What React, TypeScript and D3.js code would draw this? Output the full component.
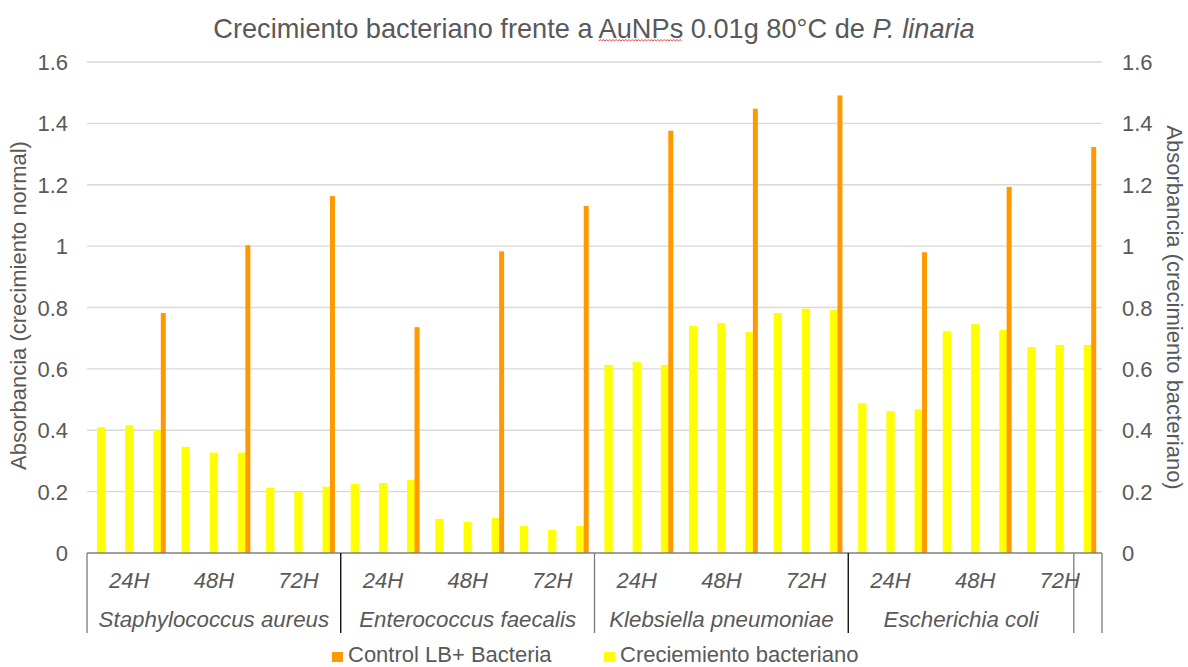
import React, { useEffect, useRef, useState } from "react";
import * as d3 from "d3";

const species = ["Staphylococcus aureus", "Enterococcus faecalis", "Klebsiella pneumoniae", "Escherichia coli", ""];
const speciesSpan = [9, 9, 9, 8, 1];
const timeLabels = ["24H", "48H", "72H"];
const growth = [
  0.41, 0.416, 0.4, 0.346, 0.327, 0.327, 0.213, 0.2, 0.216,
  0.225, 0.228, 0.238, 0.111, 0.101, 0.114, 0.088, 0.075, 0.088,
  0.613, 0.622, 0.613, 0.74, 0.749, 0.72, 0.782, 0.796, 0.792,
  0.488, 0.462, 0.468, 0.723, 0.746, 0.727, 0.671, 0.678, 0.678,
];
const control = [0.782, 1.003, 1.163, 0.736, 0.983, 1.131, 1.376, 1.448, 1.491, 0.98, 1.193, 1.323];
const yTicks = [0, 0.2, 0.4, 0.6, 0.8, 1, 1.2, 1.4, 1.6];
const seriesNames = ["Control LB+ Bacteria", "Creciemiento bacteriano"];

const W = 1188, H = 667;
const M = { left: 87, right: 1102, top: 62, bottom: 553 };
const FONT = "'Liberation Sans', Arial, sans-serif";
const TXT = "#595959";
const ORANGE = "#FF9900";
const YELLOW = "#FFFF00";

export default function App() {
  const titleRef = useRef<SVGTextElement>(null);
  const [wave, setWave] = useState<{ x0: number; x1: number } | null>(null);

  const x = d3.scaleBand<number>().domain(d3.range(growth.length)).range([M.left, M.right]).padding(0);
  const bw = x.bandwidth();
  const yL = d3.scaleLinear().domain([0, 1.6]).range([M.bottom, M.top]);
  const yR = d3.scaleLinear().domain([0, 1.6]).range([M.bottom, M.top]);

  useEffect(() => {
    const t = titleRef.current;
    if (!t) return;
    const full = t.textContent || "";
    const idx = full.indexOf("AuNPs");
    if (idx < 0) return;
    try {
      const x0 = t.getStartPositionOfChar(idx).x;
      const x1 = t.getEndPositionOfChar(idx + 4).x;
      setWave({ x0, x1 });
    } catch (e) {}
  }, []);

  let wavePath = "";
  if (wave) {
    const yb = 41;
    const step = 1.6;
    let up = true;
    wavePath = `M${wave.x0},${yb}`;
    for (let xx = wave.x0 + step; xx <= wave.x1; xx += step) {
      wavePath += ` L${xx.toFixed(1)},${up ? yb - 1.4 : yb}`;
      up = !up;
    }
  }

  const bounds: number[] = [0];
  speciesSpan.forEach((s, i) => bounds.push(bounds[i] + s));

  const legendItems = [
    { name: seriesNames[0], color: ORANGE, x: 332 },
    { name: seriesNames[1], color: YELLOW, x: 604 },
  ];

  return (
    <svg width={W} height={H} style={{ position: "absolute", left: 0, top: 0, background: "#fff" }} fontFamily={FONT}>
      <rect x={0} y={0} width={W} height={H} fill="#fff" />
      <text ref={titleRef} x={W / 2} y={38} textAnchor="middle" fontSize={27.2} fill={TXT}>
        Crecimiento bacteriano frente a AuNPs 0.01g 80°C de <tspan fontStyle="italic">P. linaria</tspan>
      </text>
      {wave && <path d={wavePath} fill="none" stroke="#e01010" strokeWidth={0.8} />}

      {yTicks.filter((v) => v > 0).map((v) => (
        <line key={v} x1={M.left} x2={M.right} y1={yL(v)} y2={yL(v)} stroke="#d9d9d9" strokeWidth={1.3} />
      ))}

      {growth.map((v, i) => (
        <rect key={"g" + i} x={x(i)! + bw / 2 - 4.15} y={yR(v)} width={8.3} height={M.bottom - yR(v)} fill={YELLOW} />
      ))}
      {control.map((v, j) => {
        const i = j * 3 + 2;
        return (
          <rect key={"c" + j} x={x(i)! + bw / 2 + 3.3} y={yL(v)} width={5} height={M.bottom - yL(v)} fill={ORANGE} />
        );
      })}

      <line x1={M.left} x2={M.right} y1={M.bottom} y2={M.bottom} stroke="#808080" strokeWidth={1.3} />
      {bounds.map((b, i) => {
        const xx = b === growth.length ? M.right : x(b)!;
        return (
          <line key={"sep" + i} x1={xx} x2={xx} y1={M.bottom} y2={633} stroke={i % 2 === 1 && i < 5 ? "#000" : "#7a7a7a"} strokeWidth={1.3} />
        );
      })}
      {d3.range(growth.length / 3).map((t) => (
        <text key={"t" + t} x={x(t * 3)! + bw * 1.5} y={588} textAnchor="middle" fontSize={22} fontStyle="italic" fill={TXT}>
          {timeLabels[t % 3]}
        </text>
      ))}
      {species.map((s, i) => (
        <text key={"s" + i} x={(x(bounds[i])! + (bounds[i + 1] === growth.length ? M.right : x(bounds[i + 1])!)) / 2} y={627} textAnchor="middle" fontSize={22.3} fontStyle="italic" fill={TXT}>
          {s}
        </text>
      ))}

      {yTicks.map((v) => (
        <text key={"l" + v} x={68} y={yL(v) + 8} textAnchor="end" fontSize={22} fill={TXT}>
          {String(v)}
        </text>
      ))}
      {yTicks.map((v) => (
        <text key={"r" + v} x={1122} y={yR(v) + 8} textAnchor="start" fontSize={22} fill={TXT}>
          {String(v)}
        </text>
      ))}

      <text transform={`translate(26,${(M.top + M.bottom) / 2 - 2}) rotate(-90)`} textAnchor="middle" fontSize={22} fill={TXT}>
        Absorbancia (crecimiento normal)
      </text>
      <text transform={`translate(1167,${(M.top + M.bottom) / 2}) rotate(90)`} textAnchor="middle" fontSize={22} fill={TXT}>
        Absorbancia (crecimiento bacteriano)
      </text>

      {legendItems.map((it) => (
        <g key={it.name}>
          <rect x={it.x} y={652} width={11} height={10} fill={it.color} />
          <text x={it.x + 16} y={662} fontSize={22} fill={TXT}>
            {it.name}
          </text>
        </g>
      ))}
    </svg>
  );
}
